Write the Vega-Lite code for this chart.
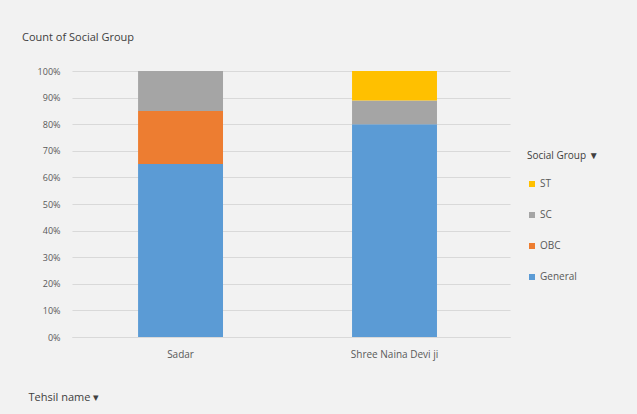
{
  "$schema": "https://vega.github.io/schema/vega-lite/v6.json",
  "width": 438,
  "height": 266,
  "autosize": {"type": "none"},
  "padding": {"left": 72, "top": 71, "right": 127, "bottom": 77},
  "background": "#f2f2f2",
  "title": {
    "text": "Count of Social Group",
    "anchor": "start",
    "frame": "group",
    "dx": -50,
    "offset": 24,
    "font": "Open Sans",
    "fontSize": 11,
    "fontWeight": "normal",
    "color": "#404040"
  },
  "data": {
    "values": [
      {"tehsil": "Sadar", "group": "General", "pct": 0.65, "ord": 1},
      {"tehsil": "Sadar", "group": "OBC", "pct": 0.20, "ord": 2},
      {"tehsil": "Sadar", "group": "SC", "pct": 0.15, "ord": 3},
      {"tehsil": "Shree Naina Devi ji", "group": "General", "pct": 0.80, "ord": 1},
      {"tehsil": "Shree Naina Devi ji", "group": "SC", "pct": 0.089, "ord": 3},
      {"tehsil": "Shree Naina Devi ji", "group": "ST", "pct": 0.111, "ord": 4}
    ]
  },
  "mark": {"type": "bar"},
  "encoding": {
    "x": {
      "field": "tehsil",
      "type": "nominal",
      "scale": {"paddingInner": 0.603, "paddingOuter": 0.325, "align": 0.475},
      "axis": {
        "title": "Tehsil name ▾",
        "titleFont": "Open Sans",
        "titleFontSize": 11,
        "titleFontWeight": "normal",
        "titleColor": "#404040",
        "titleAnchor": "start",
        "titleAlign": "left",
        "titleX": -44,
        "titleY": 54,
        "labelAngle": 0,
        "labelFont": "Open Sans",
        "labelFontSize": 10,
        "labelColor": "#595959",
        "labelPadding": 12,
        "ticks": false,
        "domainColor": "#d9d9d9",
        "grid": false
      }
    },
    "y": {
      "field": "pct",
      "type": "quantitative",
      "stack": "zero",
      "scale": {"domain": [0, 1]},
      "axis": {
        "title": null,
        "format": ".0%",
        "values": [0, 0.1, 0.2, 0.3, 0.4, 0.5, 0.6, 0.7, 0.8, 0.9, 1],
        "labelOverlap": false,
        "labelFont": "Open Sans",
        "labelFontSize": 9,
        "labelColor": "#595959",
        "labelPadding": 12,
        "ticks": false,
        "domain": false,
        "grid": true,
        "gridColor": "#d9d9d9"
      }
    },
    "color": {
      "field": "group",
      "type": "nominal",
      "scale": {
        "domain": ["ST", "SC", "OBC", "General"],
        "range": ["#ffc000", "#a5a5a5", "#ed7d31", "#5b9bd5"]
      },
      "legend": {
        "title": "Social Group ▼",
        "orient": "none",
        "legendX": 455,
        "legendY": 80,
        "titleFont": "Open Sans",
        "titleFontSize": 10,
        "titleFontWeight": "normal",
        "titleColor": "#404040",
        "titlePadding": 18,
        "labelFont": "Open Sans",
        "labelFontSize": 10,
        "labelColor": "#595959",
        "symbolType": "square",
        "symbolSize": 36,
        "symbolStrokeWidth": 0,
        "rowPadding": 21,
        "labelOffset": 3
      }
    },
    "order": {"field": "ord", "type": "quantitative"}
  },
  "config": {"view": {"stroke": null}}
}
